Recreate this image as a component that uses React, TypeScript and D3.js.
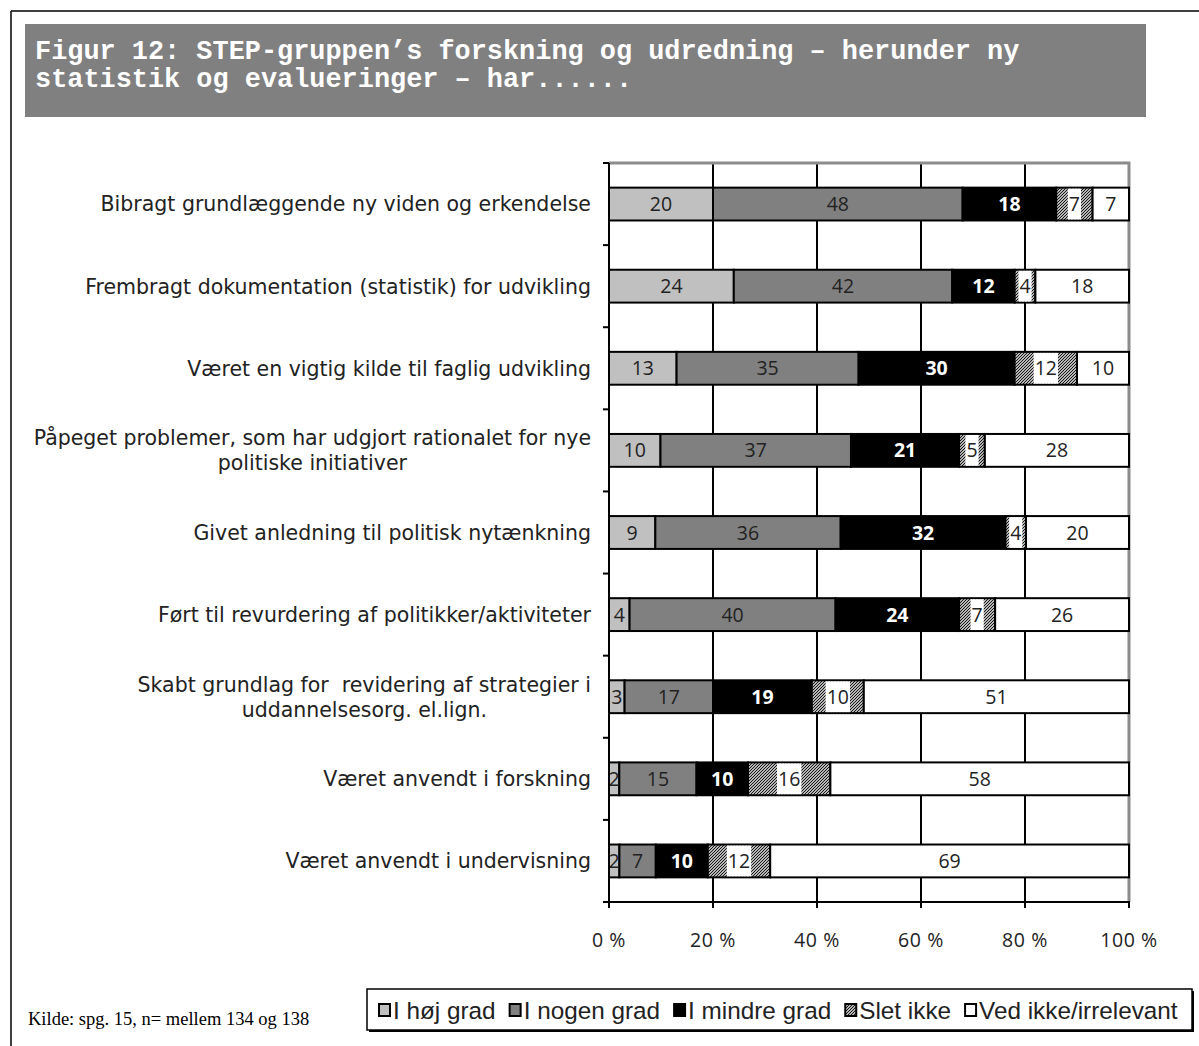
import React, { useEffect, useRef } from "react";
import * as d3 from "d3";

const categories: string[][] = [
  ["Bibragt grundlæggende ny viden og erkendelse"],
  ["Frembragt dokumentation (statistik) for udvikling"],
  ["Været en vigtig kilde til faglig udvikling"],
  ["Påpeget problemer, som har udgjort rationalet for nye", "politiske initiativer"],
  ["Givet anledning til politisk nytænkning"],
  ["Ført til revurdering af politikker/aktiviteter"],
  ["Skabt grundlag for  revidering af strategier i", "uddannelsesorg. el.lign."],
  ["Været anvendt i forskning"],
  ["Været anvendt i undervisning"],
];

const seriesNames = ["I høj grad", "I nogen grad", "I mindre grad", "Slet ikke", "Ved ikke/irrelevant"];
const hoejGrad = [20, 24, 13, 10, 9, 4, 3, 2, 2];
const nogenGrad = [48, 42, 35, 37, 36, 40, 17, 15, 7];
const mindreGrad = [18, 12, 30, 21, 32, 24, 19, 10, 10];
const sletIkke = [7, 4, 12, 5, 4, 7, 10, 16, 12];
const vedIkke = [7, 18, 10, 28, 20, 26, 51, 58, 69];
const xTicks = [0, 20, 40, 60, 80, 100];

const titleLines = [
  "Figur 12: STEP-gruppen’s forskning og udredning – herunder ny",
  "statistik og evalueringer – har......",
];
const sourceText = "Kilde: spg. 15, n= mellem 134 og 138";

const FONT = "'Open Sans', 'DejaVu Sans', sans-serif";
const LABEL_FONT = "'DejaVu Sans', 'Open Sans', sans-serif";
const FS = 19.5;

export default function App() {
  const ref = useRef<SVGSVGElement>(null);

  useEffect(() => {
    const svg = d3.select(ref.current!);
    svg.selectAll("*").remove();

    const defs = svg.append("defs");
    const pat = defs
      .append("pattern")
      .attr("id", "hatch")
      .attr("patternUnits", "userSpaceOnUse")
      .attr("width", 3)
      .attr("height", 3);
    pat.append("rect").attr("width", 3).attr("height", 3).attr("fill", "#fff");
    pat
      .append("path")
      .attr("d", "M-1,1 L1,-1 M0,3 L3,0 M2,4 L4,2")
      .attr("stroke", "#111")
      .attr("stroke-width", 1.2);

    const fills = ["#c0c0c0", "#808080", "#000000", "url(#hatch)", "#ffffff"];
    const series = [hoejGrad, nogenGrad, mindreGrad, sletIkke, vedIkke];

    // frame
    svg.append("line").attr("x1", 11).attr("y1", 11).attr("x2", 1199).attr("y2", 11).attr("stroke", "#000").attr("stroke-width", 1.5);
    svg.append("line").attr("x1", 11).attr("y1", 11).attr("x2", 11).attr("y2", 1046).attr("stroke", "#000").attr("stroke-width", 1.5);

    // title
    svg.append("rect").attr("x", 25).attr("y", 24).attr("width", 1121).attr("height", 93).attr("fill", "#808080");
    titleLines.forEach((t, i) => {
      svg
        .append("text")
        .attr("x", 35)
        .attr("y", 59 + i * 28)
        .attr("fill", "#fff")
        .attr("font-family", "'Liberation Mono', 'Courier New', monospace")
        .attr("font-weight", "bold")
        .attr("font-size", 26.9)
        .style("white-space", "pre")
        .text(t);
    });

    const x0 = 609, x1 = 1129, yTop = 163, yBot = 902;
    const x = d3.scaleLinear().domain([0, 100]).range([x0, x1]);
    const idx = categories.map((_, i) => String(i));
    const y = d3.scaleBand().domain(idx).range([yTop, yBot]).paddingInner(0.6).paddingOuter(0.3);
    const step = y.step();

    // gridlines
    const g = svg.append("g");
    g.selectAll("line.grid")
      .data(xTicks.filter((t) => t > 0 && t < 100))
      .join("line")
      .attr("x1", (d) => x(d))
      .attr("x2", (d) => x(d))
      .attr("y1", yTop)
      .attr("y2", yBot)
      .attr("stroke", "#000")
      .attr("stroke-width", 2);
    // plot border grey
    g.append("path")
      .attr("d", `M${x0},${yTop} L${x1},${yTop} L${x1},${yBot}`)
      .attr("fill", "none")
      .attr("stroke", "#8c8c8c")
      .attr("stroke-width", 3);

    // bars
    categories.forEach((_, ci) => {
      const vals = series.map((s) => s[ci]);
      const total = d3.sum(vals);
      let cum = 0;
      const by = y(String(ci))!;
      const bh = y.bandwidth();
      vals.forEach((v, si) => {
        const a = (cum / total) * 100;
        const b = ((cum + v) / total) * 100;
        cum += v;
        svg
          .append("rect")
          .attr("x", x(a))
          .attr("y", by)
          .attr("width", x(b) - x(a))
          .attr("height", bh)
          .attr("fill", fills[si])
          .attr("stroke", "#000")
          .attr("stroke-width", 2);
      });
      cum = 0;
      vals.forEach((v, si) => {
        const a = (cum / total) * 100;
        const b = ((cum + v) / total) * 100;
        cum += v;
        const cx = (x(a) + x(b)) / 2;
        const cy = by + bh / 2;
        const t = svg
          .append("text")
          .attr("x", cx)
          .attr("y", cy)
          .attr("dy", "0.36em")
          .attr("text-anchor", "middle")
          .attr("font-family", FONT)
          .attr("font-size", FS)
          .attr("font-weight", si === 2 ? "bold" : "normal")
          .attr("fill", si === 2 ? "#fff" : "#222")
          .text(String(v));
        if (si === 3) {
          const w = (t.node() as SVGTextElement).getComputedTextLength();
          svg
            .insert("rect", () => t.node())
            .attr("x", cx - w / 2 - 1)
            .attr("y", by + 1)
            .attr("width", w + 2)
            .attr("height", bh - 2)
            .attr("fill", "#fff");
        }
      });
    });

    // axes
    svg.append("line").attr("x1", x0).attr("x2", x0).attr("y1", yTop).attr("y2", yBot + 1).attr("stroke", "#000").attr("stroke-width", 2);
    svg.append("line").attr("x1", x0 - 1).attr("x2", x1 + 1).attr("y1", yBot).attr("y2", yBot).attr("stroke", "#000").attr("stroke-width", 2);
    d3.range(categories.length + 1).forEach((i) => {
      const yy = yTop + i * step;
      svg.append("line").attr("x1", x0 - 6).attr("x2", x0).attr("y1", yy).attr("y2", yy).attr("stroke", "#000").attr("stroke-width", 2);
    });
    xTicks.forEach((t) => {
      svg.append("line").attr("x1", x(t)).attr("x2", x(t)).attr("y1", yBot).attr("y2", yBot + 6).attr("stroke", "#000").attr("stroke-width", 2);
      svg
        .append("text")
        .attr("x", x(t))
        .attr("y", 940)
        .attr("dy", "0.36em")
        .attr("text-anchor", "middle")
        .attr("font-family", FONT)
        .attr("font-size", FS)
        .attr("letter-spacing", 0.6)
        .attr("fill", "#222")
        .text(`${t} %`);
    });

    // category labels
    const label = (txt: string, xx: number, yy: number, anchor: string) =>
      svg
        .append("text")
        .attr("x", xx)
        .attr("y", yy)
        .attr("dy", "0.36em")
        .attr("text-anchor", anchor)
        .attr("font-family", LABEL_FONT)
        .attr("font-size", 20.5)
        .attr("fill", "#222")
        .style("white-space", "pre")
        .text(txt);
    categories.forEach((lines, ci) => {
      const cy = y(String(ci))! + y.bandwidth() / 2;
      if (lines.length === 1) {
        label(lines[0], 591, cy, "end");
      } else {
        const t1 = label(lines[0], 591, cy - 12.5, "end");
        const w = (t1.node() as SVGTextElement).getComputedTextLength();
        label(lines[1], 591 - w / 2, cy + 12.5, "middle");
      }
    });

    // legend
    const lx = 367, ly = 989, lw = 825, lh = 41;
    svg.append("rect").attr("x", lx + 2).attr("y", ly + 2).attr("width", lw).attr("height", lh).attr("fill", "#000");
    svg.append("rect").attr("x", lx).attr("y", ly).attr("width", lw).attr("height", lh).attr("fill", "#fff").attr("stroke", "#000").attr("stroke-width", 1.5);
    let cx = 379;
    seriesNames.forEach((name, si) => {
      svg.append("rect").attr("x", cx).attr("y", ly + 15).attr("width", 11).attr("height", 12).attr("fill", fills[si]).attr("stroke", "#000").attr("stroke-width", 2);
      const t = svg
        .append("text")
        .attr("x", cx + 14)
        .attr("y", ly + 21)
        .attr("dy", "0.36em")
        .attr("font-family", "'Liberation Sans Narrow', 'Liberation Sans', Arial, sans-serif")
        .attr("font-size", 24.3)
        .attr("fill", "#222")
        .text(name);
      const w = (t.node() as SVGTextElement).getComputedTextLength();
      cx = cx + 14 + w + 14;
    });

    // source
    svg
      .append("text")
      .attr("x", 28)
      .attr("y", 1025)
      .attr("font-family", "'Liberation Serif', 'Times New Roman', serif")
      .attr("font-size", 18.5)
      .attr("fill", "#000")
      .text(sourceText);
  }, []);

  return (
    <svg
      ref={ref}
      width={1199}
      height={1046}
      style={{ position: "absolute", left: 0, top: 0, background: "#fff" }}
    />
  );
}
